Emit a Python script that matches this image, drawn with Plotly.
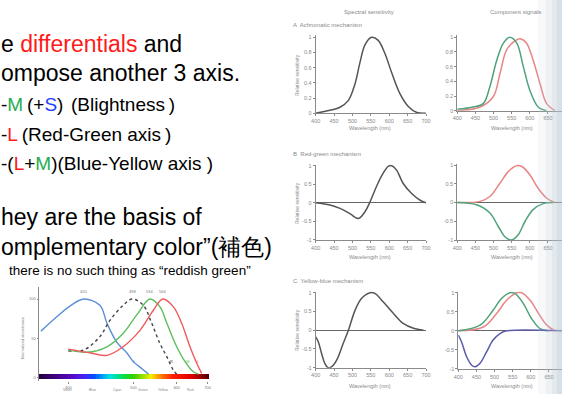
import plotly.graph_objects as go

W, H = 562, 394

# ---------------- data ----------------
# bottom-left: normalized cone/rod absorbance (%), wavelength in nm (axis is linear in wavenumber)
abs_S_wl = [369, 386, 402, 420, 443, 454, 470, 488, 500, 515, 527, 531]
abs_S_val = [59, 77, 91, 100, 92, 69, 45, 31, 20, 12, 6, 4]
abs_R_wl = [400, 420, 443, 459, 481, 498, 520, 538, 557, 574, 591, 600]
abs_R_val = [34, 35, 52, 73, 92, 100, 92, 69, 43, 26, 9, 4]
abs_M_wl = [400, 424, 454, 481, 507, 534, 557, 574, 600, 624, 650, 667]
abs_M_val = [35, 32, 39, 56, 80, 100, 90, 69, 39, 20, 7, 4]
abs_L_wl = [400, 430, 454, 481, 513, 542, 564, 591, 614, 639, 661, 678]
abs_L_val = [36, 31, 28, 39, 60, 86, 100, 90, 69, 39, 18, 5]
peak_wl = [420, 498, 534, 564]
abs_tick_wl = [400, 500, 600, 700]
abs_tick_text = ["400", "500", "600", "700"]
abs_ytick = [0, 50, 100]
spectrum_wl = list(range(365, 706, 5))
spectrum_stops = [(365, "#1e0038"), (387, "#44008a"), (411, "#5a10d8"), (425, "#3030ff"),
                  (435, "#0050ff"), (447, "#00a0ff"), (459, "#00e0e0"), (475, "#00e070"),
                  (499, "#30d000"), (520, "#a0e000"), (535, "#f0f000"), (550, "#ffb000"),
                  (565, "#ff6000"), (590, "#ff2000"), (640, "#e00000"), (680, "#900000"),
                  (705, "#4a0000")]
color_names = ["Violet", "Blue", "Cyan", "Green", "Yellow", "Red"]

# right panels
wl_ticks = [400, 450, 500, 550, 600, 650, 700]
wl_ticktext = ["400", "450", "500", "550", "600", "650", "700"]
ticks_A = [0, 0.2, 0.4, 0.6, 0.8, 1]
ticktext_A = ["0", "0.2", "0.4", "0.6", "0.8", "1"]
ticks_BC = [-1, -0.5, 0, 0.5, 1]
ticktext_BC = ["-1", "-0.5", "0", "0.5", "1"]

lum_wl = [400, 439, 466, 489, 507, 520, 534, 552, 570, 588, 607, 629, 652, 675, 700]
lum_val = [0, 0.04, 0.08, 0.17, 0.39, 0.66, 0.9, 1.0, 0.96, 0.79, 0.53, 0.26, 0.09, 0.01, 0]
A_M_wl = [400, 444, 472, 490, 509, 527, 545, 564, 582, 600, 623, 646]
A_M_val = [0.02, 0.05, 0.1, 0.33, 0.69, 0.92, 1.0, 0.92, 0.6, 0.28, 0.05, 0]
A_L_wl = [400, 463, 499, 518, 536, 559, 573, 591, 609, 628, 646, 669]
A_L_val = [0, 0.05, 0.19, 0.51, 0.83, 0.95, 0.98, 0.92, 0.69, 0.37, 0.1, 0]

rg_wl = [400, 439, 466, 493, 516, 534, 548, 561, 580, 598, 607, 620, 638, 661, 684, 700]
rg_val = [0, -0.06, -0.15, -0.29, -0.42, -0.24, 0.03, 0.34, 0.74, 0.99, 1.0, 0.88, 0.52, 0.25, 0.07, 0]
B_L_wl = [400, 463, 490, 518, 541, 564, 578, 600, 623, 646, 669]
B_L_val = [0, 0.03, 0.16, 0.52, 0.83, 0.98, 0.96, 0.74, 0.38, 0.12, 0]
B_M_wl = [400, 453, 490, 513, 532, 550, 568, 587, 609, 637, 665]
B_M_val = [0, -0.06, -0.28, -0.64, -0.92, -1.0, -0.86, -0.5, -0.19, -0.03, 0]

yb_wl = [400, 407, 416, 425, 434, 443, 457, 475, 489, 507, 525, 548, 561, 584, 611, 638, 666, 693]
yb_val = [-0.18, -0.31, -0.62, -0.89, -1.0, -0.98, -0.8, -0.35, 0, 0.53, 0.85, 1.0, 0.98, 0.75, 0.45, 0.18, 0.05, 0]
C_M_wl = [400, 460, 496, 519, 543, 556, 579, 602, 625, 648]
C_M_val = [0, 0.15, 0.54, 0.85, 1.0, 0.98, 0.72, 0.32, 0.06, 0]
C_L_wl = [400, 469, 506, 533, 561, 575, 598, 621, 644, 667]
C_L_val = [0, 0.1, 0.46, 0.8, 1.0, 1.0, 0.8, 0.46, 0.15, 0]
C_S_wl = [400, 409, 423, 437, 446, 460, 478, 496, 515, 533, 686]
C_S_val = [-0.11, -0.29, -0.68, -0.9, -0.94, -0.85, -0.55, -0.24, -0.07, 0, 0]


def wn(wl_list):
    return [1000.0 / w for w in wl_list]


def px(x):
    return x / W


def py(y):
    return 1 - y / H


fig = go.Figure()

# ---------------- bottom-left absorbance chart ----------------
zmin, zmax = spectrum_stops[0][0], spectrum_stops[-1][0]
cscale = [[(w - zmin) / (zmax - zmin), c] for w, c in spectrum_stops]
fig.add_trace(go.Heatmap(x=wn(spectrum_wl), y=[-0.6, 2.6], z=[spectrum_wl, spectrum_wl],
                         colorscale=cscale, zmin=zmin, zmax=zmax, showscale=False,
                         hoverinfo="skip", xaxis="x", yaxis="y"))
abs_series = [
    (abs_S_wl, abs_S_val, "#5b8fd8", "solid"),
    (abs_R_wl, abs_R_val, "#444444", "dot"),
    (abs_M_wl, abs_M_val, "#5cbf5c", "solid"),
    (abs_L_wl, abs_L_val, "#f05a5a", "solid"),
]
for wl, val, col, dash in abs_series:
    fig.add_trace(go.Scatter(x=wn(wl), y=val, mode="lines", line=dict(color=col, width=1.4, dash=dash, shape="spline"),
                             xaxis="x", yaxis="y", showlegend=False, hoverinfo="skip"))

# ---------------- right panels ----------------
dark = "#555555"
red = "#e98585"
green = "#4fa27a"
blue = "#5b5bab"

panels = [
    (2, [(lum_wl, lum_val, dark)]),
    (3, [(A_L_wl, A_L_val, red), (A_M_wl, A_M_val, green)]),
    (4, [(rg_wl, rg_val, dark)]),
    (5, [(B_L_wl, B_L_val, red), (B_M_wl, B_M_val, green)]),
    (6, [(yb_wl, yb_val, dark)]),
    (7, [(C_L_wl, C_L_val, red), (C_M_wl, C_M_val, green), (C_S_wl, C_S_val, blue)]),
]
for idx, series in panels:
    for wl, val, col in series:
        fig.add_trace(go.Scatter(x=wl, y=val, mode="lines", line=dict(color=col, width=1.5, shape="spline"),
                                 xaxis="x%d" % idx, yaxis="y%d" % idx, showlegend=False, hoverinfo="skip"))

axcol = "#8a8a8a"
tickfont = dict(family="Liberation Sans, Arial", size=5.5, color="#888888")

layout = dict(
    width=W, height=H, margin=dict(l=0, r=0, t=0, b=0, pad=0, autoexpand=False),
    paper_bgcolor="white", plot_bgcolor="rgba(0,0,0,0)", showlegend=False,
)

# bottom-left axes
layout["xaxis"] = dict(domain=[px(39), px(209)], range=[2.725, 1.4186], anchor="y", automargin=False,
                       tickvals=wn(abs_tick_wl), ticktext=abs_tick_text, ticks="outside", ticklen=1.5,
                       tickcolor=axcol, showline=False, showgrid=False, zeroline=False,
                       tickfont=dict(family="Liberation Sans", size=4, color="#777"))
layout["yaxis"] = dict(domain=[py(381.2), py(287.3)], range=[-5, 115], anchor="x", automargin=False,
                       tickvals=abs_ytick, ticktext=[str(v) for v in abs_ytick], ticks="outside", ticklen=1.5,
                       tickcolor=axcol, showline=True, linecolor=axcol, linewidth=1, showgrid=False,
                       zeroline=False, tickfont=dict(family="Liberation Sans", size=4, color="#777"))

# right axes geometry: (idx, x0px, x1px, xmax, ytop_px(for 1), ybot_px(for lower), ymin)
geo = [
    (2, 315.7, 426.0, 700, 37.3, 113.3, 0),
    (3, 457.3, 562.0, 688.7, 37.3, 110.7, 0),
    (4, 315.7, 426.0, 700, 165.7, 240.0, -1),
    (5, 457.3, 562.0, 688.7, 165.0, 240.0, -1),
    (6, 315.7, 426.0, 700, 292.7, 367.7, -1),
    (7, 458.3, 562.0, 685.9, 292.7, 369.0, -1),
]
for idx, x0, x1, xmax, ytop, ybot, ymin in geo:
    pad = 0.03
    span = 1 - ymin
    ppu = (ybot - ytop) / span
    ytop2 = ytop - pad * ppu
    layout["xaxis%d" % idx] = dict(domain=[px(x0), px(x1)], range=[400, xmax], anchor="y%d" % idx,
                                   automargin=False,
                                   tickvals=wl_ticks, ticktext=wl_ticktext, ticks="outside", ticklen=2,
                                   tickcolor=axcol, showline=True, linecolor=axcol, linewidth=1,
                                   showgrid=False, zeroline=False, tickfont=tickfont)
    layout["yaxis%d" % idx] = dict(domain=[py(ybot), py(ytop2)], range=[ymin, 1 + pad], anchor="x%d" % idx,
                                   automargin=False,
                                   tickvals=ticks_A if ymin == 0 else ticks_BC,
                                   ticktext=ticktext_A if ymin == 0 else ticktext_BC,
                                   ticks="outside", ticklen=2, tickcolor=axcol, showline=True,
                                   linecolor=axcol, linewidth=1, showgrid=False,
                                   zeroline=(ymin != 0), zerolinecolor="#666666", zerolinewidth=1,
                                   tickfont=tickfont)

fig.update_layout(**layout)

# ---------------- text ----------------
ann = []
big = "Liberation Sans, Arial"


def add_text(text, x, y, size, color="black", anchor="left", angle=0, family=big):
    ann.append(dict(text=text, x=px(x), y=py(y), xref="paper", yref="paper", xanchor=anchor,
                    yanchor="middle", showarrow=False, textangle=angle,
                    font=dict(family=family, size=size, color=color)))


R = "#ff1a1a"
G = "#1fae4f"
B = "#1f3fff"
ts = "\u2009"
add_text("e <span style='color:%s'>differentials</span> and" % R, -1, 44, 23)
add_text("ompose another 3 axis.", -1, 73, 23)
add_text("-<span style='color:%s'>M</span>%s(+<span style='color:%s'>S</span>)%s%s(Blightness%s)" % (G, ts, B, ts, ts, ts), -1, 104.5, 19)
add_text("-<span style='color:%s'>L</span>%s(Red-Green axis%s)" % (R, ts, ts), -1, 134, 19)
add_text("-(<span style='color:%s'>L</span>+<span style='color:%s'>M</span>)(Blue-Yellow axis )" % (R, G), -1, 163.5, 19)
add_text("hey are the basis of", -1, 217, 23)
add_text("omplementary color”(補色)", -1, 247, 23)
add_text("there is no such thing as “reddish green”", 7, 270, 13.5)

# bottom-left chart labels
small = "Liberation Sans"
for w in peak_wl:
    ann.append(dict(text=str(w), x=1000.0 / w, y=110, xref="x", yref="y", showarrow=False,
                    font=dict(family=small, size=4, color="#777"), yanchor="middle"))
for lab, w, v, col in [("S", 500, 20, "#5b8fd8"), ("R", 585, 20, "#444"), ("M", 630, 20, "#5cbf5c"),
                       ("L", 668, 20, "#f05a5a")]:
    ann.append(dict(text=lab, x=1000.0 / w, y=v, xref="x", yref="y", showarrow=False,
                    font=dict(family=small, size=4, color=col)))
for name, x in zip(color_names, [67, 92, 117, 143, 163, 190]):
    add_text(name, x, 390, 3.5, color="#888", anchor="center", family=small)
add_text("Normalized absorbance", 22, 338, 4, color="#777", anchor="center", angle=-90, family=small)

# right panel labels
gray = "#8a8a8a"
add_text("Spectral sensitivity", 369, 12, 6, color=gray, anchor="center")
add_text("Component signals", 515, 12, 6, color=gray, anchor="center")
add_text("A  Achromatic mechanism", 291, 25, 6, color=gray)
add_text("B  Red-green mechanism", 291, 154, 6, color=gray)
add_text("C  Yellow-blue mechanism", 291, 281, 6, color=gray)
for yy in [128, 257, 386]:
    add_text("Wavelength (nm)", 370, yy, 5.5, color=gray, anchor="center")
    add_text("Wavelength (nm)", 512, yy, 5.5, color=gray, anchor="center")
for yy in [75, 203, 330]:
    add_text("Relative sensitivity", 297, yy, 5, color=gray, anchor="center", angle=-90)

fig.update_layout(annotations=ann)

# faded right edge (page shadow)
shapes = []
for x0, op in [(538, 0.12), (546, 0.15), (552, 0.2), (557, 0.25)]:
    shapes.append(dict(type="rect", xref="paper", yref="paper", x0=px(x0), x1=1, y0=0, y1=1,
                       fillcolor="rgb(185,200,210)", opacity=op, line=dict(width=0), layer="above"))
fig.update_layout(shapes=shapes)

fig.write_html("out.html", config={"displayModeBar": False, "staticPlot": True},
               post_script="document.body.style.margin='0';document.body.style.overflow='hidden';")
